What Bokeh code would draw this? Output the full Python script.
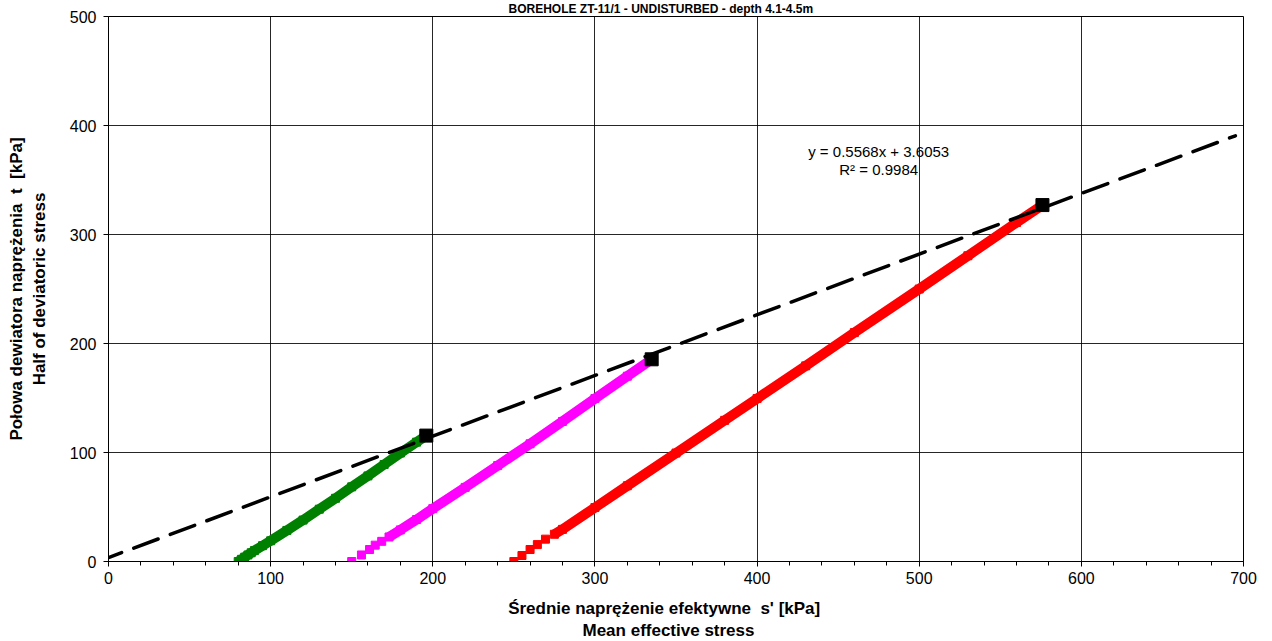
from bokeh.plotting import figure
from bokeh.models import Range1d, SingleIntervalTicker, Label, Title
from bokeh.embed import file_html
from bokeh.resources import INLINE

# Stress paths: mean effective stress s' [kPa] vs half of deviatoric stress t [kPa]
s_green = [80, 82, 84, 86, 88, 90, 95, 100, 110, 120, 130, 140, 150, 160, 170, 180, 190, 196]
t_green = [0, 2, 4, 6, 8, 10, 14.5, 19, 28.5, 38, 48, 58, 68.5, 78.5, 89, 99.5, 109.5, 115.5]

s_magenta = [150, 156, 161, 164.5, 168.5, 173, 180, 190, 200, 220, 240, 260, 280, 300, 320, 335]
t_magenta = [0, 6, 11, 15, 18.5, 22.5, 29, 38.5, 48.5, 68, 88, 108, 128.5, 149.5, 170, 185.5]

s_red = [250, 255, 260, 264.5, 269.5, 275, 280, 300, 320, 350, 380, 400, 430, 460, 500, 530, 560, 576]
t_red = [0, 5.5, 11, 15.5, 20.5, 25, 29.5, 49.5, 69.5, 99.5, 129.5, 149.5, 179.5, 210, 250, 280.5, 311, 327]

# Failure points at the end of each path
s_fail = [196, 335, 576]
t_fail = [115.5, 185.5, 327]

# Linear trend through the failure points
slope = 0.5568
intercept = 3.6053
r2 = 0.9984
trend_s = [0, 695]
trend_t = [slope * s + intercept for s in trend_s]

x_ticks_interval = 100
y_ticks_interval = 100

FONT = "Liberation Sans"
NB = "\u00a0"

p = figure(width=1272, height=641, title=None,
           x_range=Range1d(0, 700), y_range=Range1d(0, 500),
           output_backend="svg", toolbar_location=None,
           min_border_left=108, min_border_right=29,
           min_border_top=15, min_border_bottom=80)

p.background_fill_color = "white"
p.border_fill_color = "white"
p.outline_line_color = "black"
p.outline_line_width = 1

p.xaxis.ticker = SingleIntervalTicker(interval=x_ticks_interval, num_minor_ticks=5)
p.yaxis.ticker = SingleIntervalTicker(interval=y_ticks_interval, num_minor_ticks=0)

for ax in (p.xaxis[0], p.yaxis[0]):
    ax.axis_line_color = "black"
    ax.major_tick_line_color = "black"
    ax.minor_tick_line_color = "black"
    ax.major_tick_in = 0
    ax.major_tick_out = 5
    ax.minor_tick_in = 0
    ax.minor_tick_out = 4
    ax.major_label_text_font = FONT
    ax.major_label_text_font_size = "16px"
    ax.major_label_text_color = "black"
    ax.axis_label_text_font = FONT
    ax.axis_label_text_font_size = "17px"
    ax.axis_label_text_font_style = "bold"
    ax.axis_label_text_color = "black"
p.xaxis.major_label_standoff = 5
p.yaxis.major_label_standoff = 7

# Inner line of each axis title
p.yaxis.axis_label = "Half of deviatoric stress"
p.yaxis.axis_label_standoff = 18
p.xaxis.axis_label = "Średnie naprężenie efektywne" + NB + " s' [kPa]" + NB * 5
p.xaxis.axis_label_standoff = 12

p.xgrid.grid_line_color = "black"
p.ygrid.grid_line_color = "black"
p.xgrid.grid_line_alpha = 0.85
p.ygrid.grid_line_alpha = 0.85

# Stress paths: thick band through the dense readings plus square markers
paths = [
    (s_green, t_green, "#008000", 0),
    (s_magenta, t_magenta, "#FF00FF", 5),
    (s_red, t_red, "#FF0000", 5),
]
for s, t, col, k in paths:
    p.line(s[k:], t[k:], line_color=col, line_width=10, line_cap="butt")
    p.scatter(s, t, marker="square", size=8, fill_color=col, line_color=col)

# Trend line
p.line(trend_s, trend_t, line_color="black", line_width=3.5,
       line_dash="26 13", line_dash_offset=12, line_cap="round")

p.scatter(s_fail, t_fail, marker="square", size=13, fill_color="black", line_color="black")

# Trend equation
p.add_layout(Label(x=475, y=376, text=f"y = {slope}x + {intercept}",
                   text_font=FONT, text_font_size="15px", text_align="center",
                   text_baseline="middle", text_color="black"))
p.add_layout(Label(x=475, y=360, text=f"R² = {r2}",
                   text_font=FONT, text_font_size="15px", text_align="center",
                   text_baseline="middle", text_color="black"))

# Chart title, squeezed into the top margin
p.add_layout(Title(text="BOREHOLE ZT-11/1 - UNDISTURBED - depth 4.1-4.5m",
                   text_font=FONT, text_font_size="12px", text_font_style="bold",
                   text_color="black", align="left", offset=400, standoff=0,
                   vertical_align="middle"), "above")

# Outer line of the y-axis title
p.add_layout(Title(text="Połowa dewiatora naprężenia" + NB + " t" + NB + " [kPa]",
                   text_font=FONT, text_font_size="17px", text_font_style="bold",
                   text_color="black", align="center", standoff=0,
                   vertical_align="middle"), "left")

# Outer line of the x-axis title
p.add_layout(Title(text="Mean effective stress",
                   text_font=FONT, text_font_size="17px", text_font_style="bold",
                   text_color="black", align="left", offset=474, standoff=0,
                   vertical_align="top"), "below")

open("out.html", "w").write(file_html(p, INLINE))
